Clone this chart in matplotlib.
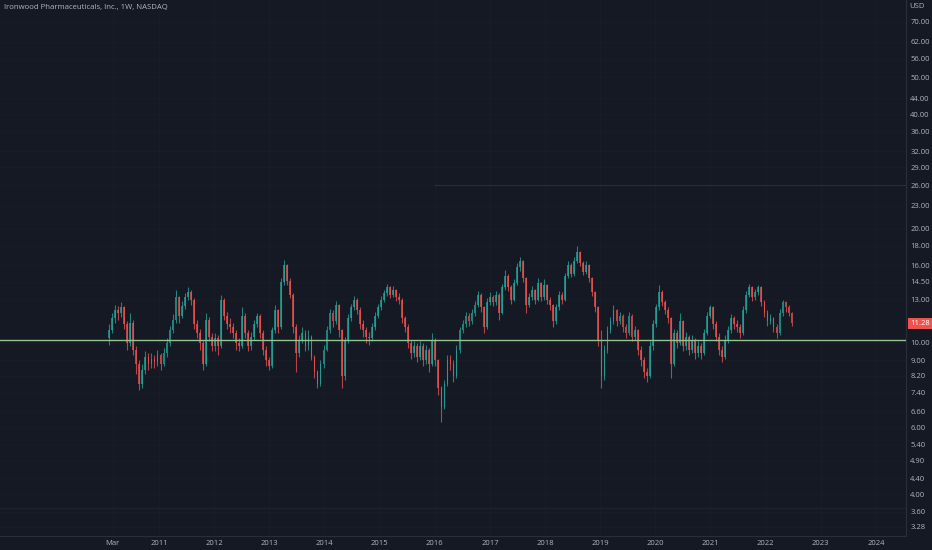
import matplotlib
matplotlib.use('Agg')
import matplotlib.pyplot as plt
import numpy as np
import pandas as pd

title = "Ironwood Pharmaceuticals, Inc., 1W, NASDAQ"
currency = "USD"
start_date = '2010-02-05'
bar_period = '20D'
first_open = 10.3

closes = [
    10.8, 11.6, 12.2, 12.0, 12.4, 11.2, 10.0, 11.3, 9.6, 8.8,
    7.8, 8.5, 9.2, 8.8, 9.1, 8.9, 9.3, 8.8, 9.4, 10.0,
    10.8, 11.5, 13.2, 11.8, 12.5, 13.2, 13.6, 13.0, 11.2, 10.6,
    10.0, 8.8, 11.5, 10.4, 9.8, 10.3, 9.8, 13.0, 11.8, 11.2,
    11.0, 10.6, 10.0, 9.8, 11.8, 10.6, 9.8, 10.4, 11.2, 11.8,
    10.6, 9.6, 9.0, 8.7, 10.8, 12.2, 11.0, 14.5, 16.0, 14.6,
    13.4, 11.0, 9.4, 10.2, 10.6, 9.8, 10.4, 9.2, 8.4, 7.8,
    8.8, 9.6, 10.8, 12.0, 11.4, 12.6, 10.8, 8.2, 10.2, 11.6,
    12.4, 13.0, 12.2, 11.2, 10.8, 10.4, 10.3, 11.0, 11.8, 12.4,
    13.0, 13.5, 14.0, 13.4, 13.8, 13.2, 13.0, 11.6, 11.0, 10.0,
    9.4, 9.8, 9.2, 9.8, 9.0, 9.6, 8.8, 10.2, 9.0, 7.6,
    6.8, 7.8, 9.0, 8.8, 8.2, 9.6, 10.8, 11.2, 11.8, 11.4,
    12.0, 12.6, 13.4, 12.4, 11.0, 12.8, 13.2, 12.8, 13.4, 12.0,
    14.0, 15.0, 14.0, 13.0, 14.4, 15.8, 16.4, 14.8, 12.6, 13.2,
    13.8, 13.0, 14.4, 13.2, 14.2, 13.0, 12.6, 11.4, 12.4, 13.4,
    13.0, 15.0, 16.0, 15.2, 16.4, 17.4, 16.2, 15.4, 16.0, 14.8,
    13.6, 12.4, 10.2, 8.2, 9.6, 10.8, 11.4, 12.2, 11.4, 11.8,
    11.0, 10.6, 11.8, 10.4, 10.8, 9.6, 9.0, 8.4, 8.2, 9.8,
    11.2, 12.4, 13.6, 12.8, 12.2, 11.6, 8.8, 10.6, 10.0, 11.4,
    9.8, 10.4, 9.6, 10.2, 9.4, 9.8, 9.4, 10.6, 11.8, 12.4,
    11.2, 10.4, 9.6, 9.2, 10.2, 10.8, 11.6, 11.2, 11.0, 10.6,
    12.2, 13.4, 14.0, 13.2, 13.6, 14.0, 12.8, 12.0, 11.4, 11.6,
    11.0, 10.6, 12.0, 12.8, 12.4, 12.0, 11.28,
]

highs = [
    11.2, 12.0, 12.6, 12.5, 12.8, 12.5, 11.4, 12.0, 11.5, 9.8,
    9.0, 8.8, 9.5, 9.4, 9.4, 9.3, 9.6, 9.4, 9.7, 10.3,
    11.1, 11.9, 13.8, 13.3, 12.9, 13.5, 14.0, 13.8, 13.1, 11.5,
    10.9, 10.2, 12.0, 11.7, 10.6, 10.6, 10.5, 13.4, 13.1, 12.1,
    11.6, 11.3, 10.8, 10.3, 12.4, 12.0, 10.8, 10.7, 11.5, 12.0,
    11.9, 10.8, 9.8, 9.2, 11.0, 12.6, 12.3, 14.8, 16.5, 16.1,
    14.8, 13.5, 11.2, 10.5, 11.0, 10.8, 10.8, 10.5, 9.3, 8.5,
    9.0, 9.9, 11.1, 12.3, 12.2, 12.9, 12.7, 10.9, 10.4, 11.9,
    12.7, 13.3, 13.1, 12.4, 11.5, 11.0, 10.7, 11.3, 12.1, 12.7,
    13.3, 13.8, 14.3, 14.1, 14.1, 13.9, 13.5, 13.1, 11.8, 11.2,
    10.2, 10.1, 10.0, 10.1, 10.0, 9.9, 9.7, 10.6, 10.3, 9.1,
    7.7, 8.0, 9.3, 9.3, 9.0, 9.9, 11.0, 11.5, 12.1, 12.0,
    12.3, 12.9, 13.7, 13.5, 12.5, 13.1, 13.6, 13.4, 13.7, 13.5,
    14.3, 15.6, 15.2, 14.2, 14.7, 16.2, 16.8, 16.5, 14.9, 13.5,
    14.1, 13.9, 14.8, 14.5, 14.7, 14.3, 13.2, 12.7, 12.7, 13.7,
    13.6, 15.3, 16.4, 16.2, 16.8, 18.0, 17.5, 16.4, 16.4, 16.1,
    14.9, 13.7, 12.5, 10.8, 9.9, 11.1, 11.7, 12.6, 12.3, 12.1,
    11.9, 11.2, 12.1, 11.9, 11.1, 10.9, 9.8, 9.2, 8.6, 10.1,
    11.5, 12.7, 14.2, 13.8, 13.0, 12.4, 11.7, 10.9, 10.8, 12.0,
    11.5, 10.7, 10.5, 10.5, 10.3, 10.1, 10.0, 10.9, 12.1, 12.6,
    12.5, 11.4, 10.6, 9.8, 10.5, 11.1, 11.9, 11.8, 11.5, 11.2,
    12.5, 13.7, 14.3, 14.1, 13.9, 14.2, 14.1, 13.0, 12.2, 11.9,
    11.7, 11.2, 12.3, 13.0, 12.9, 12.6, 12.1,
]

lows = [
    9.9, 10.6, 11.3, 11.5, 11.7, 10.9, 9.6, 9.8, 9.3, 8.3,
    7.5, 7.6, 8.3, 8.5, 8.6, 8.6, 8.7, 8.5, 8.7, 9.2,
    9.8, 10.6, 11.3, 11.3, 11.6, 12.3, 13.0, 12.6, 10.9, 10.3,
    9.6, 8.5, 8.7, 10.1, 9.5, 9.5, 9.3, 9.7, 11.5, 10.9,
    10.6, 10.3, 9.6, 9.5, 9.7, 10.3, 9.5, 9.6, 10.2, 11.0,
    10.3, 9.3, 8.7, 8.5, 8.6, 10.6, 10.6, 10.9, 14.2, 14.2,
    13.1, 10.6, 8.4, 9.2, 10.0, 9.5, 9.6, 9.0, 8.1, 7.6,
    7.7, 8.6, 9.5, 10.6, 11.0, 11.2, 10.4, 7.6, 8.0, 10.0,
    11.4, 12.2, 11.9, 10.9, 10.4, 10.0, 9.9, 10.1, 10.8, 11.6,
    12.2, 12.8, 13.3, 13.1, 13.2, 12.9, 12.7, 11.3, 10.7, 9.7,
    9.1, 9.2, 8.9, 9.0, 8.7, 8.8, 8.4, 8.7, 8.7, 7.3,
    6.2, 6.7, 7.7, 8.5, 7.9, 8.1, 9.4, 10.6, 11.0, 11.1,
    11.2, 11.8, 12.4, 12.1, 10.6, 10.9, 12.6, 12.5, 12.6, 11.5,
    11.9, 13.8, 13.7, 12.7, 12.9, 14.2, 15.5, 14.5, 12.0, 12.4,
    13.0, 12.7, 12.9, 12.9, 13.0, 12.7, 12.2, 11.0, 11.2, 12.2,
    12.7, 12.9, 14.8, 14.9, 15.0, 16.2, 15.9, 15.1, 15.2, 14.5,
    13.3, 12.1, 9.8, 7.6, 8.0, 9.4, 10.6, 11.2, 11.1, 11.2,
    10.7, 10.3, 10.5, 10.1, 10.2, 9.3, 8.7, 8.1, 7.9, 8.1,
    9.6, 11.0, 12.2, 12.5, 11.9, 11.3, 8.1, 8.7, 9.7, 9.9,
    9.5, 9.6, 9.3, 9.4, 9.1, 9.2, 9.1, 9.3, 10.5, 11.6,
    10.9, 10.1, 9.3, 8.9, 9.1, 10.0, 10.6, 10.9, 10.7, 10.3,
    10.5, 12.0, 13.2, 12.9, 13.0, 13.4, 12.5, 11.7, 11.1, 11.2,
    10.7, 10.3, 10.5, 11.8, 12.1, 11.8, 11.1,
]

price_ticks = [70, 62, 56, 50, 44, 40, 36, 32, 29, 26, 23, 20, 18, 16, 14.5,
               13, 10, 9, 8.2, 7.4, 6.6, 6, 5.4, 4.9, 4.4, 4, 3.6, 3.28]
year_ticks = list(range(2011, 2025))
first_tick_label = "Mar"
first_tick_pos = 2010.16
support_level = 10.2
level_upper = 26.0
level_lower = 3.68
last_price = 11.28

BG = '#151924'
GRID = '#181c27'
TXT = '#b2b5be'
UP = '#26a69a'
DOWN = '#ef5350'

dates = pd.date_range(start_date, periods=len(closes), freq=bar_period)
xs = np.array(dates.year + (dates.dayofyear - 1) / 365.25)
c = np.array(closes)
o = np.array([first_open] + closes[:-1])
h = np.maximum(np.array(highs), np.maximum(o, c))
l = np.minimum(np.array(lows), np.minimum(o, c))
up = c >= o
cols = np.where(up, UP, DOWN)

fig = plt.figure(figsize=(9.32, 5.5), dpi=100, facecolor=BG)
ax = fig.add_axes([0, 14 / 550, 906 / 932, 536 / 550])
ax.set_facecolor(BG)
ax.set_yscale('log')
ax.set_ylim(3.105, 79.9)
ax.set_xlim(2008.117, 2024.545)

# grid
for yv in price_ticks:
    ax.axhline(yv, color=GRID, lw=0.8, zorder=0)
for xv in [first_tick_pos] + year_ticks:
    ax.axvline(xv, color=GRID, lw=0.8, zorder=0)

# drawn levels
ax.axhline(level_upper, xmin=(2016.0 - 2008.117) / (2024.545 - 2008.117), color='#272c39', lw=0.9, zorder=1)
ax.axhline(level_lower, color='#1e222d', lw=0.9, zorder=1)

w = 0.032
ax.vlines(xs, l, h, colors=cols, lw=0.8, alpha=0.75, zorder=2)
ax.bar(xs, np.abs(c - o), bottom=np.minimum(o, c), width=w, color=cols,
       alpha=0.75, linewidth=0, zorder=3)

ax.axhline(support_level, color='#94c494', lw=1.0, zorder=4)

# axes styling
for s in ['top', 'left']:
    ax.spines[s].set_visible(False)
ax.spines['right'].set_color('#2a2e39')
ax.spines['bottom'].set_color('#2a2e39')
ax.spines['right'].set_linewidth(0.8)
ax.spines['bottom'].set_linewidth(0.8)

ax.yaxis.tick_right()
ax.yaxis.set_minor_locator(matplotlib.ticker.NullLocator())
ax.set_yticks(price_ticks)
ax.set_yticklabels([f"{t:.2f}" for t in price_ticks])
ax.tick_params(axis='y', length=0, pad=3, labelsize=5.5, labelcolor=TXT)

ax.set_xticks([first_tick_pos] + year_ticks)
ax.set_xticklabels([first_tick_label] + [str(y) for y in year_ticks])
ax.tick_params(axis='x', length=0, pad=3, labelsize=5.5, labelcolor=TXT)
for lbl in ax.get_xticklabels() + ax.get_yticklabels():
    lbl.set_fontfamily('Open Sans')

# last price label
ax.annotate(f"{last_price:.2f}", xy=(1.0, last_price), xycoords=('axes fraction', 'data'),
            xytext=(3, 0), textcoords='offset points', ha='left', va='center',
            fontsize=5.5, color='white', family='Open Sans',
            bbox=dict(boxstyle='square,pad=0.25', fc=DOWN, ec='none'), zorder=10,
            annotation_clip=False)

fig.text(4 / 932, 1 - 7 / 550, title, ha='left', va='center', fontsize=5.6,
         color=TXT, family='Open Sans')
fig.text(909 / 932, 1 - 7 / 550, currency, ha='left', va='center', fontsize=5.5,
         color=TXT, family='Open Sans')

fig.savefig('out.png', dpi=100, facecolor=BG)
